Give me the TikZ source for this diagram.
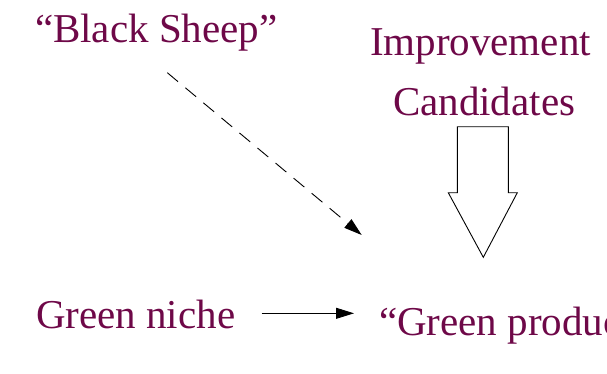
\documentclass[tikz,border=0pt]{standalone}
\usepackage{fontspec}
\setmainfont{Liberation Serif}
\usetikzlibrary{arrows.meta}
\definecolor{txtcol}{RGB}{110,8,72}
\begin{document}
\begin{tikzpicture}[x=1pt,y=-1pt,
  lbl/.style={anchor=base west,inner sep=0pt,outer sep=0pt,text=txtcol,font=\fontsize{41}{49}\selectfont},
  conn/.style={line width=0.9pt,-{Triangle[length=18pt,width=11pt]}},
  dashconn/.style={conn,dash pattern=on 14pt off 9.5pt},
  blockarrow/.style={draw=black,line width=0.9pt,fill=white,line join=miter}]
\useasboundingbox (0,0) rectangle (607,373);
\clip (0,0) rectangle (607,373);
\node[lbl] (bs) at (35,42) {“Black Sheep”};
\node[lbl] (imp) at (370,55) {Improvement};
\node[lbl] (cand) at (393,115) {Candidates};
\node[lbl] (gn) at (36,328) {Green niche};
\node[lbl] (gp) at (379,335) {“Green products”};
\coordinate (d1) at (167.3,72.7);
\coordinate (d2) at (361.7,235);
\coordinate (a1) at (261.7,313.3);
\coordinate (a2) at (354,313.3);
\draw[dashconn] (d1) -- (d2);
\draw[conn] (a1) -- (a2);
\coordinate (b1) at (457.3,126.7);
\coordinate (b2) at (508.3,126.7);
\coordinate (b3) at (508.3,192.7);
\coordinate (b4) at (517.3,192.7);
\coordinate (b5) at (483.3,257.3);
\coordinate (b6) at (448.3,192.7);
\coordinate (b7) at (457.3,192.7);
\draw[blockarrow] (b1) -- (b2) -- (b3) -- (b4) -- (b5) -- (b6) -- (b7) -- cycle;
\end{tikzpicture}
\end{document}
